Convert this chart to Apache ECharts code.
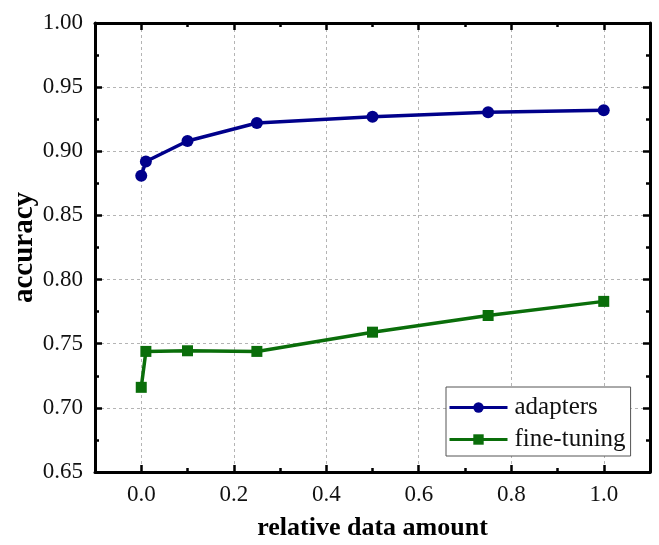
<!DOCTYPE html>
<html>
<head>
<meta charset="utf-8">
<script src="https://cdn.jsdelivr.net/npm/echarts@6/dist/echarts.min.js"></script>
<style>
html,body{margin:0;padding:0;background:#fff;}
#chart{width:659px;height:545px;}
</style>
</head>
<body>
<div id="chart"></div>
<script>
const xValues = [0, 0.01, 0.1, 0.25, 0.5, 0.75, 1.0];
const adapters = [0.881, 0.892, 0.908, 0.922, 0.927, 0.9305, 0.932];
const fineTuning = [0.716, 0.744, 0.7445, 0.744, 0.759, 0.772, 0.783];
const xMajorTicks = [0, 0.2, 0.4, 0.6, 0.8, 1.0];
const xMinorTicks = [0.1, 0.3, 0.5, 0.7, 0.9];
const seriesNames = ['adapters', 'fine-tuning'];

const FONT = '"Liberation Serif", "Times New Roman", serif';
const BLUE = '#00008b';
const GREEN = '#0a6e0a';

const chart = echarts.init(document.getElementById('chart'), null, {renderer: 'canvas'});

const axisLine = {show: true, onZero: false, lineStyle: {color: '#000', width: 3}};
const dashed = {show: true, lineStyle: {color: '#b4b4b4', width: 1, type: [3, 3]}};

function xAx(pos, ticks, len, withLabels, withLine) {
  return {
    type: 'value', position: pos, min: -0.1, max: 1.1,
    axisLine: withLine ? axisLine : {show: false},
    axisTick: {show: true, inside: true, length: len, customValues: ticks, lineStyle: {color: '#000', width: 2.5}},
    axisLabel: withLabels ? {
      show: true, customValues: xMajorTicks, margin: 11,
      fontFamily: FONT, fontSize: 23, color: '#111',
      formatter: v => v.toFixed(1)
    } : {show: false},
    splitLine: (withLabels ? dashed : {show: false}),
    name: withLabels ? 'relative data amount' : '',
    nameLocation: 'middle', nameGap: 43,
    nameTextStyle: {fontFamily: FONT, fontSize: 26, fontWeight: 'bold', color: '#000'}
  };
}

function yAx(pos, main) {
  return {
    type: 'value', position: pos, min: 0.65, max: 1.0, interval: 0.05,
    axisLine: axisLine,
    axisTick: {show: true, inside: true, length: 7, lineStyle: {color: '#000', width: 2.5}},
    minorTick: {show: true, splitNumber: 2, length: 4, lineStyle: {color: '#000', width: 2.5}},
    axisLabel: main ? {
      show: true, margin: 12, fontFamily: FONT, fontSize: 23, color: '#111',
      formatter: v => v.toFixed(2)
    } : {show: false},
    splitLine: main ? dashed : {show: false},
    name: main ? 'accuracy' : '',
    nameLocation: 'middle', nameGap: 59, nameRotate: 90, nameMoveOverlap: false,
    nameTextStyle: {fontFamily: FONT, fontSize: 29, fontWeight: 'bold', color: '#000', lineHeight: 22}
  };
}

const option = {
  backgroundColor: '#fff',
  animation: false,
  grid: {left: 95, right: 9, top: 23, bottom: 73, containLabel: false, outerBoundsMode: 'none'},
  xAxis: [
    xAx('bottom', xMajorTicks, 7, true, true),
    xAx('bottom', xMinorTicks, 4, false, false),
    xAx('top', xMajorTicks, 7, false, true),
    xAx('top', xMinorTicks, 4, false, false)
  ],
  yAxis: [yAx('left', true), yAx('right', false)],
  legend: {
    left: 446, top: 387, orient: 'vertical',
    data: seriesNames,
    backgroundColor: '#fff',
    borderColor: '#555', borderWidth: 1,
    padding: [8, 5, 4, 2],
    itemGap: 7, itemWidth: 58, itemHeight: 13,
    lineStyle: {width: 3},
    textStyle: {fontFamily: FONT, fontSize: 25, color: '#111', lineHeight: 24, padding: [0, 0, 0, 2]}
  },
  series: [
    {
      name: seriesNames[0], type: 'line', xAxisIndex: 0, yAxisIndex: 0,
      data: xValues.map((x, i) => [x, adapters[i]]),
      symbol: 'circle', symbolSize: 12,
      lineStyle: {color: BLUE, width: 3.5}, itemStyle: {color: BLUE}
    },
    {
      name: seriesNames[1], type: 'line', xAxisIndex: 0, yAxisIndex: 0,
      data: xValues.map((x, i) => [x, fineTuning[i]]),
      symbol: 'rect', symbolSize: 11,
      lineStyle: {color: GREEN, width: 3.5}, itemStyle: {color: GREEN}
    }
  ]
};
chart.setOption(option);
</script>
</body>
</html>
